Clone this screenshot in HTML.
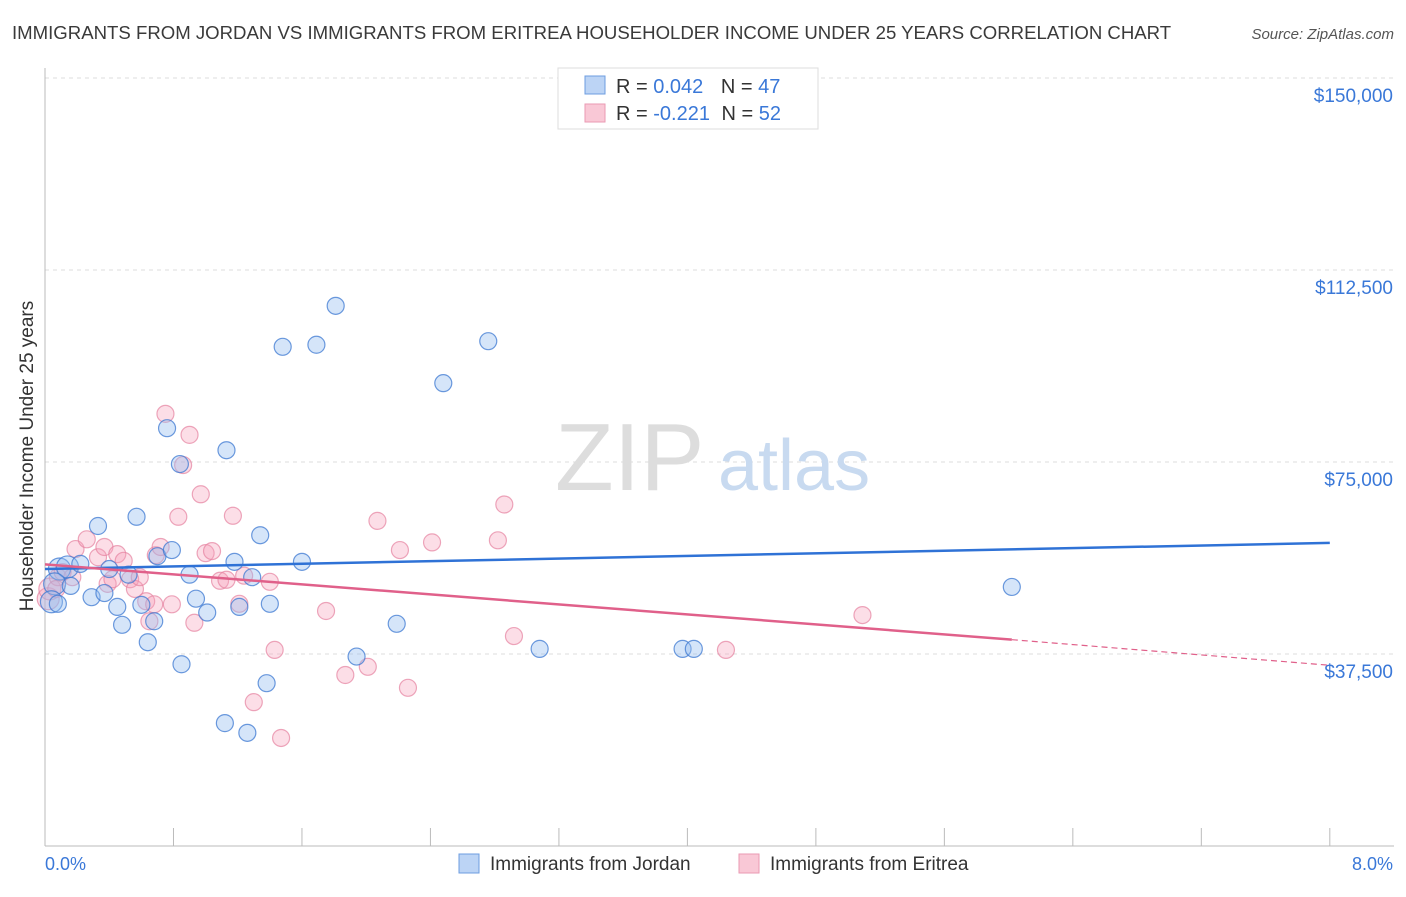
<!DOCTYPE html>
<html><head><meta charset="utf-8"><style>
body{margin:0;background:#fff;font-family:"Liberation Sans",sans-serif}
svg text{font-family:"Liberation Sans",sans-serif}
</style></head><body>
<svg width="1406" height="892" xmlns="http://www.w3.org/2000/svg">
<text x="12" y="39" font-size="18.6" fill="#3a3a3a">IMMIGRANTS FROM JORDAN VS IMMIGRANTS FROM ERITREA HOUSEHOLDER INCOME UNDER 25 YEARS CORRELATION CHART</text>
<text x="1394" y="39" font-size="15" fill="#555" font-style="italic" text-anchor="end">Source: ZipAtlas.com</text>
<g id="grid"></g>
<text x="555" y="490" font-size="96" fill="#ddd" font-family="Liberation Serif">ZIP</text>
<text x="718" y="490" font-size="72" fill="#c8daf0">atlas</text>
<line x1="45" y1="68" x2="45" y2="846" stroke="#bbb"/>
<line x1="45" y1="846" x2="1394" y2="846" stroke="#bbb"/>
<g id="ticks"></g>
<g id="pts"></g>
<g id="trends"></g>
<text x="33" y="456" font-size="19" fill="#333" text-anchor="middle" transform="rotate(-90 33 456)">Householder Income Under 25 years</text>
<text x="45" y="870" font-size="18" fill="#3a78d8">0.0%</text>
<text x="1393" y="870" font-size="18" fill="#3a78d8" text-anchor="end">8.0%</text>
<g>
<rect x="558" y="68" width="260" height="61" fill="#fff" stroke="#ddd"/>
<rect x="585" y="76" width="20" height="18" fill="#bcd4f5" stroke="#6d9de0"/>
<rect x="585" y="104" width="20" height="18" fill="#f9c8d6" stroke="#ea9ab3"/>
<text x="616" y="93" font-size="20" fill="#333">R = <tspan fill="#3a78d8">0.042</tspan>  <tspan dx="12">N = </tspan><tspan fill="#3a78d8">47</tspan></text>
<text x="616" y="120" font-size="20" fill="#333">R = <tspan fill="#3a78d8">-0.221</tspan>  <tspan dx="6">N = </tspan><tspan fill="#3a78d8">52</tspan></text>
</g>
<g>
<rect x="459" y="854" width="20" height="19" fill="#bcd4f5" stroke="#6d9de0"/>
<text x="490" y="870" font-size="19" fill="#333">Immigrants from Jordan</text>
<rect x="739" y="854" width="20" height="19" fill="#f9c8d6" stroke="#ea9ab3"/>
<text x="770" y="870" font-size="19" fill="#333">Immigrants from Eritrea</text>
</g>
</svg>
<script>
const yTicks=[150000,112500,75000,37500];
const yTickLabels=["$150,000","$112,500","$75,000","$37,500"];
const jordanX=[0.09,0.14,0.06,0.04,0.08,0.16,0.22,0.29,0.33,0.37,0.40,0.45,0.48,0.52,0.57,0.60,0.64,0.68,0.70,0.76,0.79,0.84,0.85,0.90,0.94,1.01,1.13,1.12,1.18,1.21,1.26,1.29,1.34,1.38,1.40,1.48,1.60,1.69,1.81,1.94,2.19,2.48,2.76,3.08,3.97,4.04,6.02];
const jordanY=[54100,54500,51200,47700,47300,50800,55100,48600,62500,49400,54100,46700,43200,53000,64300,47100,39800,43900,56600,81600,57800,74600,35500,53000,48300,45600,77300,24000,55500,46700,22100,52500,60700,31800,47300,97500,55500,97900,105500,37000,43400,90400,98600,38500,38500,38500,50600];
const eritreaX=[0.02,0.03,0.08,0.11,0.17,0.19,0.26,0.33,0.37,0.39,0.42,0.45,0.49,0.53,0.56,0.59,0.63,0.65,0.68,0.69,0.72,0.75,0.79,0.83,0.86,0.90,0.93,0.97,1.00,1.04,1.09,1.13,1.17,1.21,1.24,1.30,1.40,1.43,1.47,1.75,1.87,2.01,2.07,2.21,2.26,2.41,2.82,2.86,2.92,4.24,5.09,0.07];
const eritreaY=[48300,50200,52500,53500,52500,58000,59900,56400,58400,51200,52100,57000,55700,52100,50200,52500,47800,43900,47200,56800,58400,84400,47200,64300,74400,80300,43600,68700,57200,57600,51800,52000,64500,47300,52800,28100,51600,38300,21100,45900,33400,35000,63500,57800,30900,59300,59700,66700,41000,38300,45100,50200];
const X=v=>45+v*160.6, Y=v=>846-(v)*192/37500;
const NS="http://www.w3.org/2000/svg";
function mk(t,a,p){const e=document.createElementNS(NS,t);for(const k in a)e.setAttribute(k,a[k]);p.appendChild(e);return e;}
const grid=document.getElementById('grid');
yTicks.forEach((v,i)=>{
 const l=mk('line',{x1:45,x2:1394,y1:Y(v),y2:Y(v),stroke:'#ddd','stroke-dasharray':'4,4'},grid);
 
 
 const t=mk('text',{x:1393,y:Y(v)+24,'font-size':19,fill:'#3a78d8','text-anchor':'end'},grid);
 t.textContent=yTickLabels[i];
 
 
});
const ticks=document.getElementById('ticks');
for(let k=1;k<=10;k++){
 const l=mk('line',{x1:X(k*0.8),x2:X(k*0.8),y1:828,y2:846,stroke:'#bbb'},ticks);
 
 
}
const pts=document.getElementById('pts');
eritreaX.forEach((x,i)=>{
 const c=mk('circle',{cx:X(x),cy:Y(eritreaY[i]),r:i<2?11:8.5,fill:'rgba(245,160,185,0.35)',stroke:'rgba(230,130,160,0.7)','stroke-width':1.2},pts);
 
 
});
jordanX.forEach((x,i)=>{
 const c=mk('circle',{cx:X(x),cy:Y(jordanY[i]),r:i<4?11:8.5,fill:'rgba(150,190,240,0.4)',stroke:'rgba(60,120,210,0.75)','stroke-width':1.2},pts);
 
 
});
const tr=document.getElementById('trends');
const jl=mk('line',{x1:X(0),y1:Y(54100),x2:X(8),y2:Y(59200),stroke:'#2f72d6','stroke-width':2.5},tr);


const el=mk('line',{x1:X(0),y1:Y(55000),x2:X(6.02),y2:Y(40300),stroke:'#e0608a','stroke-width':2.5},tr);


const ed=mk('line',{x1:X(6.02),y1:Y(40300),x2:X(8),y2:Y(35300),stroke:'#e0608a','stroke-width':1.2,'stroke-dasharray':'6,4'},tr);


</script>
</body></html>
